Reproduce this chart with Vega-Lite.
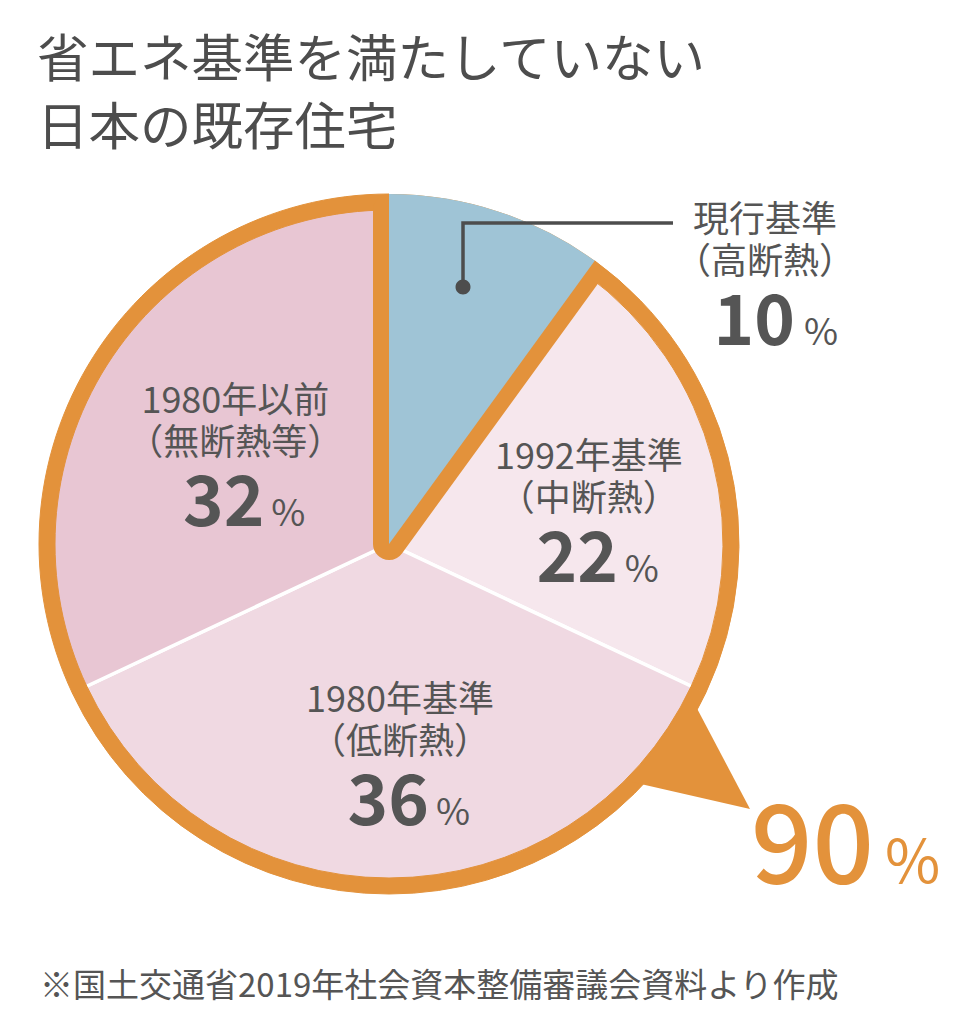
{
  "$schema": "https://vega.github.io/schema/vega-lite/v6.json",
  "width": 778,
  "height": 700,
  "autosize": {"type": "none"},
  "padding": {"left": 0, "top": 194, "right": 182, "bottom": 130},
  "background": "white",
  "config": {"view": {"stroke": null}, "font": "Noto Sans CJK JP"},
  "title": {
    "text": ["省エネ基準を満たしていない", "日本の既存住宅"],
    "anchor": "start",
    "frame": "group",
    "fontSize": 51.5,
    "fontWeight": "normal",
    "color": "#4d4d4d",
    "lineHeight": 68,
    "offset": 32,
    "dx": 37,
    "font": "Noto Sans CJK JP"
  },
  "data": {
    "values": [
      {"cat": "現行基準", "sub": "（高断熱）", "v": 10},
      {"cat": "1992年基準", "sub": "（中断熱）", "v": 22},
      {"cat": "1980年基準", "sub": "（低断熱）", "v": 36},
      {"cat": "1980年以前", "sub": "（無断熱等）", "v": 32}
    ]
  },
  "transform": [{"calculate": "datum.cat + '|' + datum.sub", "as": "label"}],
  "layer": [
    {
      "encoding": {
        "theta": {"field": "v", "type": "quantitative", "stack": true},
        "detail": {"field": "cat", "type": "nominal"},
        "order": {"field": "cat", "type": "nominal", "sort": "descending"}
      },
      "layer": [
        {
          "mark": {"type": "arc", "radius": 350, "stroke": "white", "strokeWidth": 3.5},
          "encoding": {
            "fill": {
              "field": "cat",
              "type": "nominal",
              "scale": {
                "domain": ["現行基準", "1992年基準", "1980年基準", "1980年以前"],
                "range": ["#9fc4d6", "#f6e7ed", "#f0d9e2", "#e8c6d3"]
              },
              "legend": null
            }
          }
        },
        {
          "mark": {"type": "arc", "outerRadius": 350, "innerRadius": 334, "fill": "#e3923b", "stroke": "#e3923b", "strokeWidth": 1},
          "encoding": {
            "opacity": {"condition": {"test": "datum.cat === '現行基準'", "value": 0}, "value": 1}
          }
        },
        {
          "mark": {"type": "arc", "radius": 334, "fill": "transparent", "stroke": "#e3923b", "strokeWidth": 32, "strokeJoin": "round"},
          "encoding": {
            "opacity": {"condition": {"test": "datum.cat === '現行基準'", "value": 1}, "value": 0}
          }
        },
        {
          "mark": {"type": "arc", "radius": 350, "fill": "#9fc4d6"},
          "encoding": {
            "opacity": {"condition": {"test": "datum.cat === '現行基準'", "value": 1}, "value": 0}
          }
        },
        {
          "mark": {"type": "text", "radius": 195, "dx": 11, "dy": -38, "fontSize": 36, "lineHeight": 42, "lineBreak": "|", "color": "#555555", "baseline": "middle", "align": "center"},
          "encoding": {
            "text": {"field": "label", "type": "nominal"},
            "opacity": {"condition": {"test": "datum.cat === '現行基準'", "value": 0}, "value": 1}
          }
        },
        {
          "mark": {"type": "text", "radius": 195, "dx": 40, "dy": 86, "fontSize": 69, "fontWeight": "bold", "color": "#555555", "baseline": "alphabetic", "align": "right"},
          "encoding": {
            "text": {"field": "v", "type": "quantitative"},
            "opacity": {"condition": {"test": "datum.cat === '現行基準'", "value": 0}, "value": 1}
          }
        },
        {
          "mark": {"type": "text", "radius": 195, "dx": 47, "dy": 86, "fontSize": 37, "color": "#555555", "baseline": "alphabetic", "align": "left"},
          "encoding": {
            "text": {"value": "%"},
            "opacity": {"condition": {"test": "datum.cat === '現行基準'", "value": 0}, "value": 1}
          }
        }
      ]
    },
    {
      "transform": [{"filter": "datum.cat !== '現行基準'"}, {"aggregate": [{"op": "sum", "field": "v", "as": "total"}]}],
      "mark": {"type": "point", "shape": "M303,155L361,265L243,238Z", "size": 4, "filled": true, "color": "#e3923b", "opacity": 1, "strokeWidth": 0},
      "encoding": {}
    },
    {
      "transform": [{"filter": "datum.cat === '現行基準'"}],
      "mark": {"type": "point", "shape": "M74,-257L74,-321L284,-321", "size": 4, "filled": false, "stroke": "#4d4d4d", "strokeWidth": 3.5, "opacity": 1},
      "encoding": {}
    },
    {
      "transform": [{"filter": "datum.cat === '現行基準'"}],
      "mark": {"type": "point", "shape": "M81.5,-257A7.5,7.5,0,1,1,66.5,-257A7.5,7.5,0,1,1,81.5,-257Z", "size": 4, "filled": true, "color": "#4d4d4d", "opacity": 1, "strokeWidth": 0},
      "encoding": {}
    },
    {
      "transform": [{"filter": "datum.cat === '現行基準'"}],
      "mark": {"type": "text", "dx": 376, "dy": -323, "fontSize": 36, "lineHeight": 42, "lineBreak": "|", "color": "#555555", "baseline": "middle", "align": "center"},
      "encoding": {"text": {"field": "label", "type": "nominal"}}
    },
    {
      "transform": [{"filter": "datum.cat === '現行基準'"}],
      "mark": {"type": "text", "dx": 406, "dy": -199, "fontSize": 69, "fontWeight": "bold", "color": "#555555", "baseline": "alphabetic", "align": "right"},
      "encoding": {"text": {"field": "v", "type": "quantitative"}}
    },
    {
      "transform": [{"filter": "datum.cat === '現行基準'"}],
      "mark": {"type": "text", "dx": 415, "dy": -199, "fontSize": 37, "color": "#555555", "baseline": "alphabetic", "align": "left"},
      "encoding": {"text": {"value": "%"}}
    },
    {
      "transform": [{"filter": "datum.cat !== '現行基準'"}, {"aggregate": [{"op": "sum", "field": "v", "as": "total"}]}],
      "mark": {"type": "text", "dx": 485, "dy": 339, "fontSize": 108, "fontWeight": 500, "color": "#e3923b", "baseline": "alphabetic", "align": "right"},
      "encoding": {"text": {"field": "total", "type": "quantitative"}}
    },
    {
      "transform": [{"filter": "datum.cat !== '現行基準'"}, {"aggregate": [{"op": "sum", "field": "v", "as": "total"}]}],
      "mark": {"type": "text", "dx": 496, "dy": 339, "fontSize": 60, "color": "#e3923b", "baseline": "alphabetic", "align": "left"},
      "encoding": {"text": {"value": "%"}}
    },
    {
      "data": {"values": [{"note": "※国土交通省2019年社会資本整備審議会資料より作成"}]},
      "mark": {"type": "text", "dx": -349, "dy": 453, "fontSize": 33, "color": "#555555", "baseline": "alphabetic", "align": "left"},
      "encoding": {"text": {"field": "note", "type": "nominal"}}
    }
  ]
}
